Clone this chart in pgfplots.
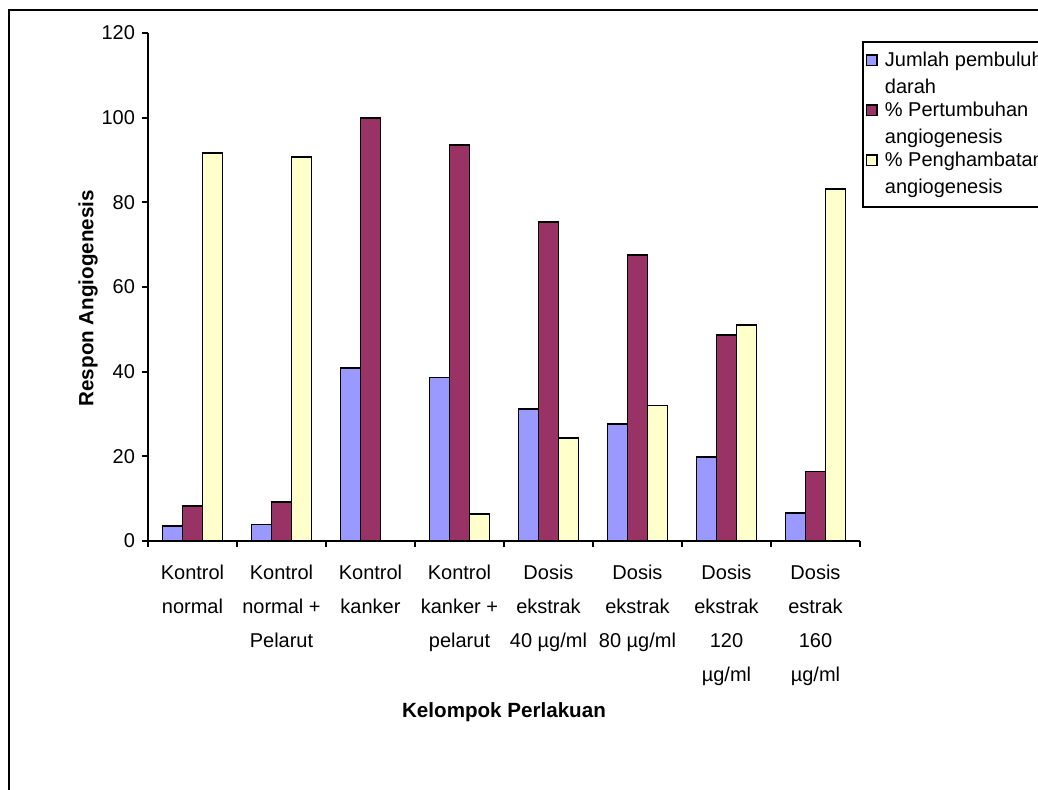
\documentclass[border=0pt]{standalone}
\usepackage{fontspec}
\setmainfont{Liberation Sans}
\usepackage{pgfplots}
\pgfplotsset{compat=1.18}
\definecolor{cblue}{HTML}{9999FF}
\definecolor{cred}{HTML}{993366}
\definecolor{cyel}{HTML}{FFFFCC}
\pgfplotsset{mylegend/.style={legend image code/.code={\draw[##1,draw=black,line width=0.8pt] (0pt,14.1pt) rectangle (5.2pt,19.3pt);}}}
\begin{document}
\begin{tikzpicture}
\useasboundingbox (0,0) rectangle (519pt,-395pt);
\draw[line width=1pt] (4.25pt,-420pt) -- (4.25pt,-5pt) -- (540pt,-5pt);
\begin{axis}[
  at={(74pt,-270.5pt)}, anchor=south west,
  scale only axis, width=356pt, height=254pt,
  xmin=-0.5, xmax=7.5, ymin=0, ymax=120,
  axis x line*=bottom, axis y line*=left,
  axis line style={line width=0.9pt, -},
  tick align=outside,
  major tick length=3pt,
  tick style={line width=0.9pt, black},
  ytick={0,20,40,60,80,100,120},
  xtick={-0.5,0.5,1.5,2.5,3.5,4.5,5.5,6.5,7.5},
  xticklabels={},
  extra x ticks={0,1,2,3,4,5,6,7},
  extra x tick labels={{Kontrol\\normal},{Kontrol\\normal +\\Pelarut},{Kontrol\\kanker},{Kontrol\\kanker +\\pelarut},{Dosis\\ekstrak\\40 µg/ml},{Dosis\\ekstrak\\80 µg/ml},{Dosis\\ekstrak\\120\\µg/ml},{Dosis\\estrak\\160\\µg/ml}},
  extra x tick style={major tick length=0pt, tick style={draw=none}, xticklabel style={align=center, anchor=north, yshift=-8.3pt}},
  ticklabel style={font=\fontsize{10}{17}\selectfont},
  /pgf/number format/assume math mode=true,
  ybar=0pt, bar width=10pt,
  xlabel={Kelompok Perlakuan},
  xlabel style={at={(axis description cs:0.5,-0.3366)}, anchor=center, font=\fontsize{10.3}{12}\selectfont\bfseries},
  ylabel={Respon Angiogenesis},
  ylabel style={at={(axis description cs:-0.0843,0.478)}, anchor=center, font=\fontsize{10.3}{12}\selectfont\bfseries},
  legend style={at={(1.0028,0.9843)}, anchor=north west, draw=black, line width=0.9pt,
    font=\fontsize{10}{13.5}\selectfont, cells={anchor=base west, align=left},
    inner xsep=1.5pt, inner ysep=3.2pt, row sep=-1.3pt,
    /tikz/every odd column/.append style={column sep=1.5pt}},
]
\addplot[fill=cblue, draw=black, line width=0.9pt, mylegend] coordinates {(0,3.5) (1,3.9) (2,40.9) (3,38.6) (4,31.1) (5,27.6) (6,19.9) (7,6.7)};
\addlegendentry{Jumlah pembuluh\\darah}
\addplot[fill=cred, draw=black, line width=0.9pt, mylegend] coordinates {(0,8.3) (1,9.2) (2,100) (3,93.6) (4,75.3) (5,67.5) (6,48.6) (7,16.4)};
\addlegendentry{\% Pertumbuhan\\angiogenesis}
\addplot[fill=cyel, draw=black, line width=0.9pt, mylegend] coordinates {(0,91.6) (1,90.7) (3,6.4) (4,24.3) (5,32.0) (6,51.0) (7,83.2)};
\addlegendentry{\% Penghambatan\\angiogenesis}
\end{axis}
\end{tikzpicture}
\end{document}
